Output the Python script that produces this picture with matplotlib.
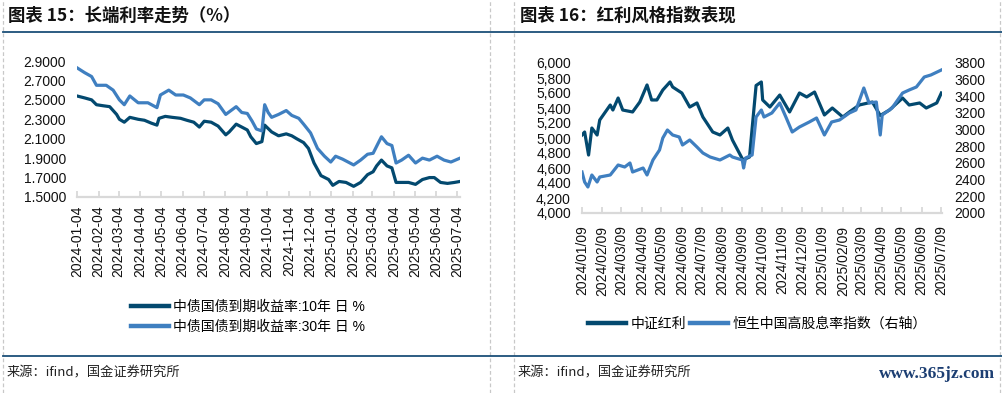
import matplotlib
matplotlib.use("Agg")
import matplotlib.pyplot as plt
import matplotlib.dates as mdates
import matplotlib.ticker as mticker
from matplotlib.lines import Line2D
import pandas as pd

plt.rcParams['font.family'] = ['Liberation Sans', 'Noto Sans CJK SC', 'DejaVu Sans']

# ---------------- data: chart 15 (long-end yields, %) ----------------
y10_dates = ['2024-01-04', '2024-01-15', '2024-01-25', '2024-02-01', '2024-02-10', '2024-02-20',
             '2024-03-01', '2024-03-05', '2024-03-12', '2024-03-20', '2024-04-01', '2024-04-10',
             '2024-04-20', '2024-04-28', '2024-05-01', '2024-05-10', '2024-05-20', '2024-06-01',
             '2024-06-10', '2024-06-20', '2024-06-28', '2024-07-05', '2024-07-15', '2024-07-25',
             '2024-08-05', '2024-08-10', '2024-08-20', '2024-08-28', '2024-09-05', '2024-09-10',
             '2024-09-18', '2024-09-26', '2024-09-30', '2024-10-10', '2024-10-20', '2024-10-31',
             '2024-11-08', '2024-11-15', '2024-11-25', '2024-12-02', '2024-12-10', '2024-12-20',
             '2024-12-31', '2025-01-06', '2025-01-15', '2025-01-25', '2025-02-05', '2025-02-15',
             '2025-02-25', '2025-03-05', '2025-03-10', '2025-03-17', '2025-03-25', '2025-04-01',
             '2025-04-07', '2025-04-15', '2025-04-25', '2025-05-05', '2025-05-15', '2025-05-25',
             '2025-06-01', '2025-06-10', '2025-06-20', '2025-06-30', '2025-07-08']
y10_values = [2.54, 2.52, 2.50, 2.45, 2.44, 2.43,
              2.35, 2.30, 2.27, 2.32, 2.30, 2.29,
              2.26, 2.24, 2.31, 2.33, 2.32, 2.31,
              2.29, 2.27, 2.22, 2.28, 2.27, 2.23,
              2.14, 2.17, 2.25, 2.22, 2.19, 2.12,
              2.05, 2.07, 2.24, 2.17, 2.13, 2.15,
              2.13, 2.10, 2.06, 2.00, 1.85, 1.72,
              1.68, 1.62, 1.66, 1.65, 1.61, 1.65,
              1.73, 1.76, 1.82, 1.88, 1.82, 1.80,
              1.65, 1.65, 1.65, 1.63, 1.68, 1.70,
              1.70, 1.65, 1.64, 1.65, 1.66]

y30_dates = ['2024-01-04', '2024-01-15', '2024-01-25', '2024-02-01', '2024-02-15', '2024-02-25',
             '2024-03-05', '2024-03-12', '2024-03-20', '2024-04-01', '2024-04-15', '2024-04-28',
             '2024-05-03', '2024-05-15', '2024-05-25', '2024-06-05', '2024-06-15', '2024-06-28',
             '2024-07-05', '2024-07-15', '2024-07-25', '2024-08-05', '2024-08-20', '2024-08-28',
             '2024-09-05', '2024-09-12', '2024-09-18', '2024-09-26', '2024-09-30', '2024-10-05',
             '2024-10-10', '2024-10-20', '2024-10-31', '2024-11-08', '2024-11-18', '2024-11-25',
             '2024-12-05', '2024-12-15', '2024-12-25', '2025-01-03', '2025-01-10', '2025-01-20',
             '2025-02-05', '2025-02-15', '2025-02-25', '2025-03-05', '2025-03-12', '2025-03-17',
             '2025-03-25', '2025-04-01', '2025-04-07', '2025-04-15', '2025-04-25', '2025-05-05',
             '2025-05-15', '2025-05-25', '2025-06-05', '2025-06-15', '2025-06-25', '2025-07-08']
y30_values = [2.83, 2.78, 2.74, 2.65, 2.65, 2.60,
              2.50, 2.45, 2.54, 2.47, 2.47, 2.42,
              2.55, 2.60, 2.55, 2.55, 2.52, 2.45,
              2.50, 2.50, 2.46, 2.35, 2.43, 2.37,
              2.36, 2.28, 2.20, 2.18, 2.45, 2.37,
              2.32, 2.35, 2.39, 2.34, 2.31, 2.25,
              2.16, 2.00, 1.92, 1.86, 1.92, 1.89,
              1.83, 1.88, 1.94, 1.95, 2.05, 2.12,
              2.05, 2.03, 1.85, 1.88, 1.93, 1.85,
              1.90, 1.88, 1.92, 1.88, 1.86, 1.90]

yield_labels = ['中债国债到期收益率:10年 日 %', '中债国债到期收益率:30年 日 %']
yield_yticks = [1.5, 1.7, 1.9, 2.1, 2.3, 2.5, 2.7, 2.9]
yield_xticks = ['2024-01-04', '2024-02-04', '2024-03-04', '2024-04-04', '2024-05-04', '2024-06-04',
                '2024-07-04', '2024-08-04', '2024-09-04', '2024-10-04', '2024-11-04', '2024-12-04',
                '2025-01-04', '2025-02-04', '2025-03-04', '2025-04-04', '2025-05-04', '2025-06-04',
                '2025-07-04']

# ---------------- data: chart 16 (dividend indices) ----------------
csi_dates = ['2024-01-09', '2024-01-13', '2024-01-19', '2024-01-24', '2024-02-01', '2024-02-05',
             '2024-02-21', '2024-02-25', '2024-03-04', '2024-03-11', '2024-03-26', '2024-04-06',
             '2024-04-17', '2024-04-24', '2024-05-02', '2024-05-11', '2024-05-22', '2024-05-26',
             '2024-06-09', '2024-06-21', '2024-07-02', '2024-07-11', '2024-07-26', '2024-08-06',
             '2024-08-18', '2024-08-25', '2024-09-10', '2024-09-20', '2024-09-30', '2024-10-08',
             '2024-10-10', '2024-10-21', '2024-11-05', '2024-11-20', '2024-12-05', '2024-12-16',
             '2024-12-28', '2025-01-12', '2025-01-24', '2025-02-09', '2025-02-19', '2025-03-06',
             '2025-03-26', '2025-04-07', '2025-04-21', '2025-05-11', '2025-05-21', '2025-06-06',
             '2025-06-16', '2025-07-02', '2025-07-09']
csi_values = [5040, 5080, 4773, 5133, 5040, 5240,
              5440, 5373, 5533, 5373, 5347, 5480,
              5707, 5507, 5507, 5640, 5747, 5680,
              5600, 5413, 5467, 5280, 5080, 5040,
              5133, 4973, 4707, 4747, 5700, 5747,
              5507, 5413, 5573, 5347, 5600, 5547,
              5613, 5307, 5400, 5280, 5347, 5440,
              5480, 5300, 5373, 5533, 5440, 5467,
              5400, 5467, 5600]

hs_dates = ['2024-01-09', '2024-01-13', '2024-01-18', '2024-01-24', '2024-02-01', '2024-02-05',
            '2024-02-21', '2024-03-04', '2024-03-14', '2024-03-22', '2024-03-26', '2024-04-11',
            '2024-04-17', '2024-04-26', '2024-05-06', '2024-05-11', '2024-05-18', '2024-05-26',
            '2024-06-05', '2024-06-10', '2024-06-21', '2024-07-02', '2024-07-11', '2024-07-22',
            '2024-08-06', '2024-08-21', '2024-08-25', '2024-09-09', '2024-09-11', '2024-09-14',
            '2024-09-24', '2024-09-30', '2024-10-08', '2024-10-12', '2024-10-24', '2024-11-05',
            '2024-11-15', '2024-11-24', '2024-12-05', '2024-12-20', '2024-12-31', '2025-01-12',
            '2025-01-23', '2025-02-04', '2025-02-19', '2025-03-01', '2025-03-13', '2025-03-21',
            '2025-04-01', '2025-04-07', '2025-04-10', '2025-04-25', '2025-05-11', '2025-05-21',
            '2025-06-01', '2025-06-13', '2025-06-23', '2025-07-09']
hs_values = [2492, 2372, 2312, 2456, 2372, 2432,
             2456, 2576, 2552, 2600, 2492, 2540,
             2456, 2636, 2756, 2900, 2996, 2936,
             2912, 2816, 2876, 2792, 2720, 2672,
             2636, 2696, 2672, 2636, 2540, 2660,
             2696, 3152, 3236, 3152, 3200, 3320,
             3140, 2972, 3032, 3092, 3140, 2936,
             3092, 3116, 3200, 3236, 3500, 3320,
             3332, 2936, 3176, 3260, 3440, 3476,
             3512, 3632, 3656, 3716]

index_labels = ['中证红利', '恒生中国高股息率指数（右轴）']
left_yticks = [4000, 4200, 4400, 4600, 4800, 5000, 5200, 5400, 5600, 5800, 6000]
right_yticks = [2000, 2200, 2400, 2600, 2800, 3000, 3200, 3400, 3600, 3800]
index_xticks = ['2024/01/09', '2024/02/09', '2024/03/09', '2024/04/09', '2024/05/09', '2024/06/09',
                '2024/07/09', '2024/08/09', '2024/09/09', '2024/10/09', '2024/11/09', '2024/12/09',
                '2025/01/09', '2025/02/09', '2025/03/09', '2025/04/09', '2025/05/09', '2025/06/09',
                '2025/07/09']

titles = ['图表 15：长端利率走势（%）', '图表 16：红利风格指数表现']
source_text = '来源：ifind，国金证券研究所'
watermark = 'www.365jz.com'

# ---------------- styling ----------------
W, H = 1002, 393
DARK = '#03496f'
LIGHT = '#3f7fc0'
AXIS_GRAY = '#d9d9d9'
RULE = '#1b4f78'

fig = plt.figure(figsize=(W / 100, H / 100), dpi=100)


def fx(x):
    return x / W


def fy(y):
    return 1 - y / H


def add_axes_px(x0, y0, x1, y1):
    return fig.add_axes([fx(x0), fy(y1), (x1 - x0) / W, (y1 - y0) / H])


# frame lines
for xv in [3, 490, 514, 1000]:
    fig.add_artist(Line2D([fx(xv), fx(xv)], [0, 1], color='#c8c8c8', lw=0.9,
                          ls=(0, (3, 2)), transform=fig.transFigure))
for yv in [32, 356]:
    fig.add_artist(Line2D([fx(3), 1], [fy(yv), fy(yv)], color=RULE, lw=1.3,
                          transform=fig.transFigure))

# titles
fig.text(fx(8), fy(16), titles[0], fontsize=12.5, fontweight='bold',
         family=['Noto Sans CJK SC'], va='center', ha='left', color='#111111')
fig.text(fx(520), fy(16), titles[1], fontsize=12.5, fontweight='bold',
         family=['Noto Sans CJK SC'], va='center', ha='left', color='#111111')

# sources
fig.text(fx(7), fy(373), source_text, fontsize=9.5, family=['Noto Sans CJK SC'],
         va='center', ha='left', color='#222222')
fig.text(fx(518), fy(373), source_text, fontsize=9.5, family=['Noto Sans CJK SC'],
         va='center', ha='left', color='#222222')
fig.text(fx(995), fy(374), watermark, fontsize=12.5, family=['Liberation Serif'],
         fontweight='bold', va='center', ha='right', color='#1d3f73')


def style_axis(ax):
    for s in ['top', 'left', 'right']:
        ax.spines[s].set_visible(False)
    ax.spines['bottom'].set_color(AXIS_GRAY)
    ax.spines['bottom'].set_linewidth(1.6)
    ax.tick_params(axis='x', direction='in', length=4, width=1.3, color=AXIS_GRAY,
                   labelsize=10, labelrotation=90, pad=6, labelcolor='#111111')
    ax.tick_params(axis='y', length=0, labelsize=10, pad=8, labelcolor='#111111')
    ax.set_facecolor('none')


# ---------------- chart 15 ----------------
ax1 = add_axes_px(77, 61, 460, 197)
ax1.plot(pd.to_datetime(y10_dates), y10_values, color=DARK, lw=2.3, label=yield_labels[0])
ax1.plot(pd.to_datetime(y30_dates), y30_values, color=LIGHT, lw=2.3, label=yield_labels[1])
ax1.set_ylim(1.5, 2.9)
ax1.set_yticks(yield_yticks)
ax1.yaxis.set_major_formatter(mticker.FormatStrFormatter('%.4f'))
ax1.set_xlim(pd.Timestamp('2024-01-04'), pd.Timestamp('2025-07-08'))
ax1.set_xticks(pd.to_datetime(yield_xticks))
ax1.set_xticklabels(yield_xticks)
style_axis(ax1)
leg1 = ax1.legend(loc='upper left', bbox_to_anchor=(fx(131), fy(300)),
                  bbox_transform=fig.transFigure, frameon=False, fontsize=10,
                  handlelength=2.7, handletextpad=0.35, labelspacing=0.45,
                  borderpad=0, borderaxespad=0)
for h in leg1.get_lines():
    h.set_linewidth(3.2)

# ---------------- chart 16 ----------------
ax2 = add_axes_px(582, 63, 942, 213)
l1, = ax2.plot(pd.to_datetime(csi_dates), csi_values, color=DARK, lw=2.3, label=index_labels[0])
ax2.set_ylim(4000, 6000)
ax2.set_yticks(left_yticks)
ax2.yaxis.set_major_formatter(mticker.StrMethodFormatter('{x:,.0f}'))
ax3 = ax2.twinx()
l2, = ax3.plot(pd.to_datetime(hs_dates), hs_values, color=LIGHT, lw=2.3, label=index_labels[1])
ax3.set_ylim(2000, 3800)
ax3.set_yticks(right_yticks)
idx_ticks = pd.to_datetime(index_xticks, format='%Y/%m/%d')
ax2.set_xlim(pd.Timestamp('2024-01-09'), pd.Timestamp('2025-07-10'))
ax2.set_xticks(idx_ticks)
ax2.set_xticklabels(index_xticks)
style_axis(ax2)
for s in ['top', 'left', 'right', 'bottom']:
    ax3.spines[s].set_visible(False)
ax3.tick_params(axis='y', length=0, labelsize=10, pad=9, labelcolor='#111111')
ax3.tick_params(axis='x', length=0)
ax2.tick_params(axis='x', pad=9)
ax3.set_zorder(ax2.get_zorder() + 1)
leg2 = ax3.legend([l1, l2], index_labels, loc='upper left', bbox_to_anchor=(fx(588), fy(317)),
                  bbox_transform=fig.transFigure, frameon=False, fontsize=10, ncol=2,
                  handlelength=2.7, handletextpad=0.35, columnspacing=0.3,
                  borderpad=0, borderaxespad=0)
for h in leg2.get_lines():
    h.set_linewidth(3.2)

fig.savefig('out.png', dpi=100)
